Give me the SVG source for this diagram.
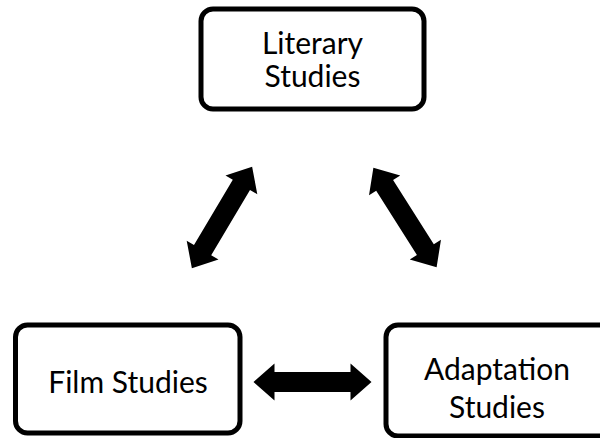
<svg xmlns="http://www.w3.org/2000/svg" width="600" height="438" viewBox="0 0 600 438">
<style>
.box{fill:#fff;stroke:#000;stroke-width:5}
.lbl{font-family:Lato,"Open Sans","Liberation Sans",sans-serif;font-size:30px;fill:#000;text-anchor:middle}
.arr{fill:#000}
</style>
<defs>
<path id="dbl" d="M -59 0 L -38 -18.5 L -38 -10 L 38 -10 L 38 -18.5 L 59 0 L 38 18.5 L 38 10 L -38 10 L -38 18.5 Z"/>
</defs>
<rect width="600" height="438" fill="#fff"/>
<g id="literary">
<rect class="box" x="201" y="9" width="223" height="100" rx="12"/>
<text class="lbl" x="312.5" y="54">Literary</text>
<text class="lbl" x="312.5" y="87">Studies</text>
</g>
<g id="film">
<rect class="box" x="15.5" y="325" width="224.5" height="108" rx="12"/>
<text class="lbl" x="128" y="393">Film Studies</text>
</g>
<g id="adaptation">
<rect class="box" x="386" y="325" width="240" height="111" rx="12"/>
<text class="lbl" x="497" y="380">Adaptation</text>
<text class="lbl" x="497" y="418">Studies</text>
</g>
<g id="connectors" class="arr">
<use href="#dbl" transform="translate(222 217.5) rotate(-59.3)"/>
<use href="#dbl" transform="translate(405 217.5) rotate(57.6)"/>
<use href="#dbl" transform="translate(312.5 382)"/>
</g>
</svg>
